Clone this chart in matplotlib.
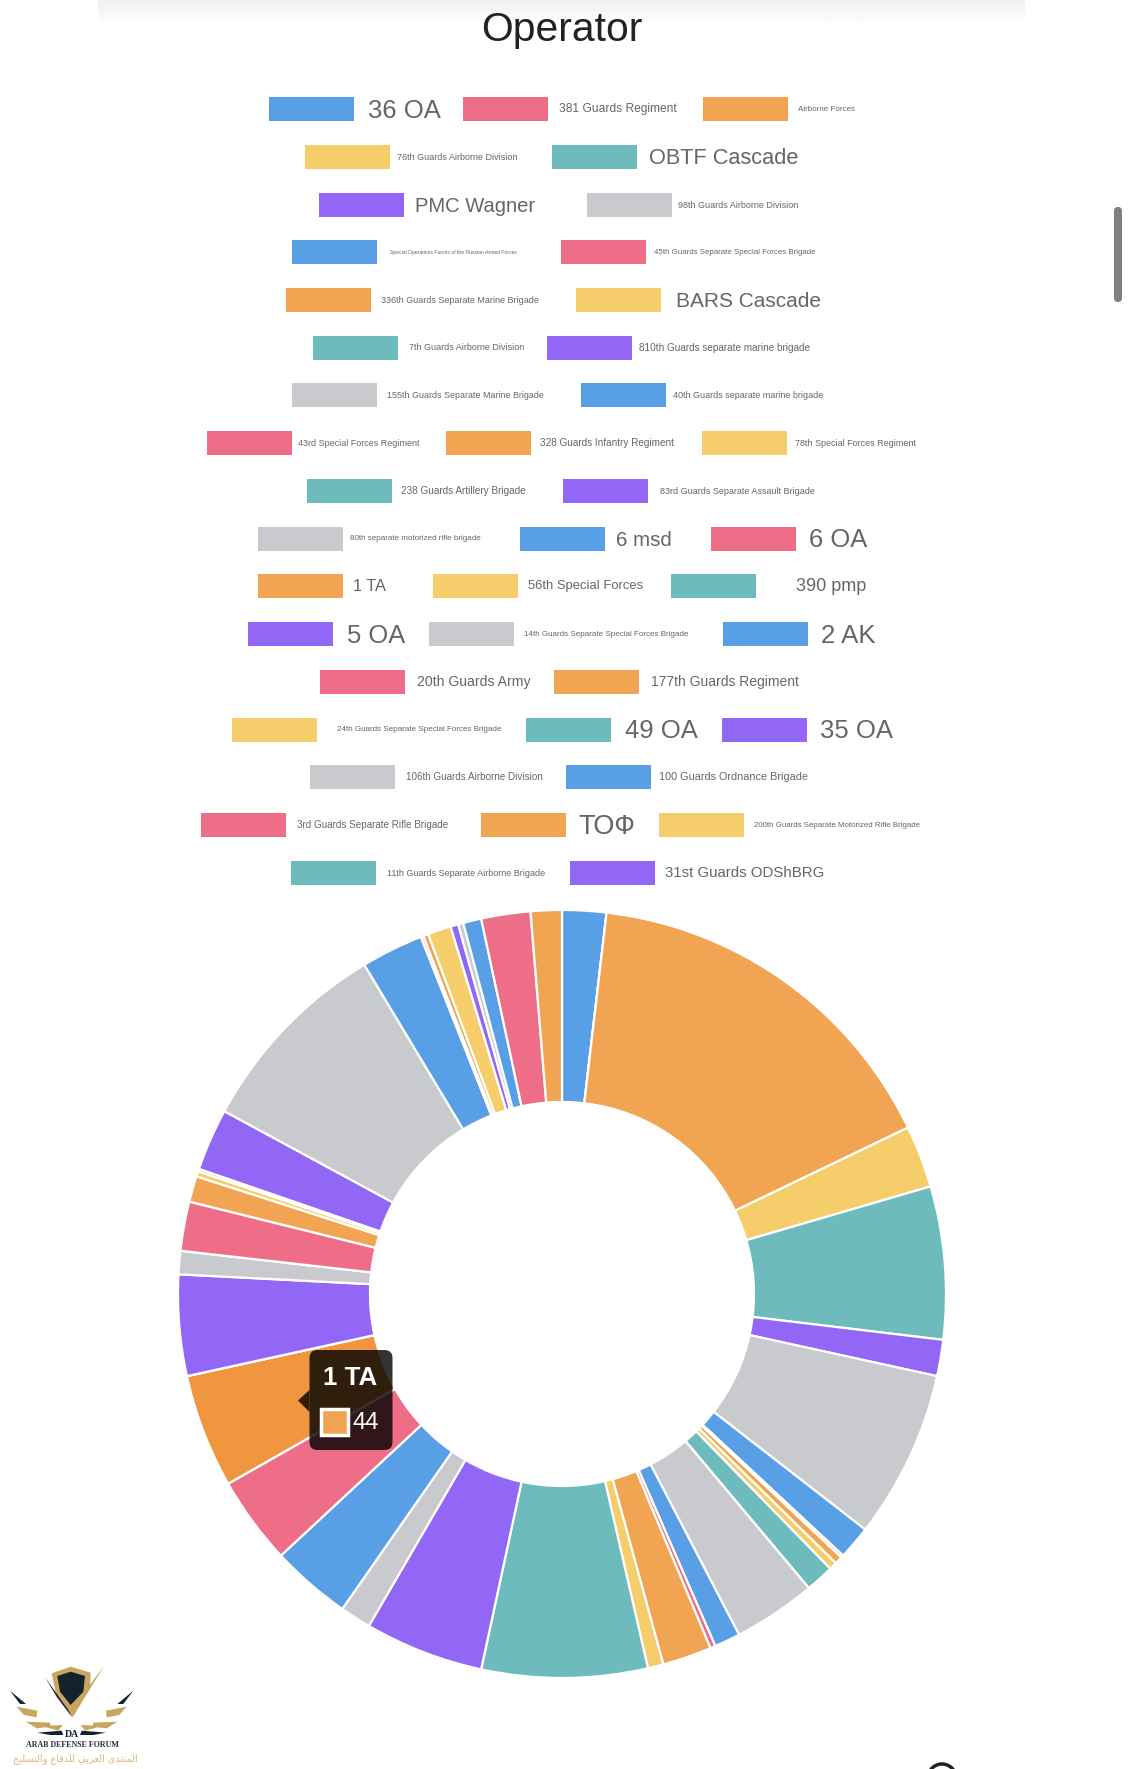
import numpy as np
import matplotlib
matplotlib.use("Agg")
import matplotlib.pyplot as plt
from matplotlib.patches import FancyBboxPatch, Polygon, Rectangle, Arc

labels = ["36 OA", "381 Guards Regiment", "Airborne Forces",
          "76th Guards Airborne Division", "OBTF Cascade",
          "PMC Wagner", "98th Guards Airborne Division",
          "Special Operations Forces of the Russian Armed Forces", "45th Guards Separate Special Forces Brigade",
          "336th Guards Separate Marine Brigade", "BARS Cascade",
          "7th Guards Airborne Division", "810th Guards separate marine brigade",
          "155th Guards Separate Marine Brigade", "40th Guards separate marine brigade",
          "43rd Special Forces Regiment", "328 Guards Infantry Regiment", "78th Special Forces Regiment",
          "238 Guards Artillery Brigade", "83rd Guards Separate Assault Brigade",
          "80th separate motorized rifle brigade", "6 msd", "6 OA",
          "1 TA", "56th Special Forces", "390 pmp",
          "5 OA", "14th Guards Separate Special Forces Brigade", "2 AK",
          "20th Guards Army", "177th Guards Regiment",
          "24th Guards Separate Special Forces Brigade", "49 OA", "35 OA",
          "106th Guards Airborne Division", "100 Guards Ordnance Brigade",
          "3rd Guards Separate Rifle Brigade", "ТОФ", "200th Guards Separate Motorized Rifle Brigade",
          "11th Guards Separate Airborne Brigade", "31st Guards ODShBRG"]

# slice values, the last four slices have no legend entry in the picture
values = [17, 0, 147, 24, 59,
          14, 65,
          13, 1,
          3, 3,
          11, 0,
          32, 10,
          2, 19, 6,
          64, 46,
          12, 31, 34,
          44, 0, 0,
          39, 9, 0,
          19, 10,
          2, 1, 24,
          78, 24,
          1, 2, 9,
          0, 3,
          2, 7, 19, 12]

palette = ["#589FE6", "#EE6E87", "#F1A553", "#F5CD6B", "#6EBBBD", "#9367F5", "#C8CACE"]

# legend layout in pixels: row y, swatch left, text left, text width
row_y = [109, 157, 205, 252, 300, 347.5, 395, 443, 491, 538.5, 586, 634, 682, 729.5, 777, 825, 873]
row_count = [3, 2, 2, 2, 2, 2, 2, 3, 2, 3, 3, 3, 2, 3, 2, 3, 2]
swatch_x = [268.6, 462.9, 703.2, 304.6, 551.8, 318.9, 587.3, 291.9, 560.8, 286, 575.6,
            312.5, 546.5, 291.9, 581.4, 206.6, 445.9, 701.6, 307.2, 562.9,
            258, 520, 710.6, 257.5, 432.7, 671.4, 247.9, 428.5, 722.8, 319.9, 554.4,
            232, 526.4, 721.7, 309.9, 566.1, 200.8, 480.9, 658.7, 291.3, 569.8]
text_x = [367.6, 559.2, 798, 397.2, 648.7, 415.2, 677.8, 389.8, 654, 380.8, 675.7,
          408.9, 639, 386.6, 673, 298.2, 540.1, 794.8, 400.9, 660.3,
          350.1, 616.4, 809.1, 352.8, 528, 796.4, 346.9, 524.3, 821.3, 416.8, 650.8,
          336.9, 625.4, 819.7, 405.7, 659.3, 296.6, 578.3, 754, 386.6, 664.6]
text_w = [72.5, 117.5, 57, 120, 150, 120, 120, 125, 163, 157, 145,
          115, 171.5, 156, 150, 121, 134, 121, 125.5, 154.6,
          130, 56, 58, 33, 115, 70, 58, 163, 55, 114, 148,
          163.6, 72.5, 72.5, 138, 149, 153, 57, 168, 158, 159]

arabic = ("\uFEA2\uFEF4\uFEE0\uFEB4\uFE98\uFEDF\uFE8D\uFEED "
          "\uFEC9\uFE8E\uFED3\uFEAA\uFEE0\uFEDF "
          "\uFEF2\uFE91\uFEAE\uFECC\uFEDF\uFE8D "
          "\uFEEF\uFEAA\uFE98\uFEE8\uFEE4\uFEDF\uFE8D")

fig = plt.figure(figsize=(11.30, 17.69), dpi=100, facecolor="white")


def fit_text(ax, x, y, s, width, **kw):
    # scale the font so the text is as wide as in the picture
    t = ax.text(x, y, s, fontsize=10, **kw)
    w = t.get_window_extent(fig.canvas.get_renderer()).width
    t.set_fontsize(10 * width / w)
    return t


def logo_poly(ax, pts, color, mirror=False):
    # points come from a 3x crop of the corner
    xy = [[((430 - px) if mirror else px) / 3, 1660 + py / 3] for px, py in pts]
    ax.add_patch(Polygon(xy, fc=color, ec="none"))


def draw_logo(ax):
    navy = "#14222E"
    gold = "#C9A660"
    logo_poly(ax, [(155, 40), (212, 20), (272, 38), (270, 85), (215, 170), (170, 110)], gold)
    logo_poly(ax, [(172, 48), (212, 35), (255, 48), (250, 95), (212, 135), (180, 95)], navy)
    logo_poly(ax, [(312, 18), (218, 172), (205, 150), (262, 85)], gold)
    logo_poly(ax, [(135, 52), (205, 150), (215, 170), (170, 110)], navy)
    for m in [False, True]:
        logo_poly(ax, [(30, 92), (78, 132), (60, 132)], navy, m)
        logo_poly(ax, [(50, 140), (112, 152), (110, 172), (72, 165)], gold, m)
        logo_poly(ax, [(78, 185), (150, 188), (152, 200), (110, 205)], gold, m)
        logo_poly(ax, [(125, 198), (188, 195), (175, 212)], gold, m)
        logo_poly(ax, [(112, 218), (185, 212), (190, 225), (150, 225)], navy, m)
    fit_text(ax, 72, 1734, "DA", 14, family="Liberation Serif", weight="bold", color=navy, ha="center", va="center")
    fit_text(ax, 72.5, 1745, "ARAB DEFENSE FORUM", 93, family="Liberation Serif", weight="bold", color="#25303A", ha="center", va="center")
    fit_text(ax, 75, 1758.5, arabic, 125, family="DejaVu Sans", color="#DDB778", ha="center", va="center")


def main():
    W, H = 1130.0, 1769.0

    # pie, centre (562, 1294) radius 384
    ax = fig.add_axes([178 / W, 1 - 1678 / H, 768 / W, 768 / H], zorder=1)
    colors = [palette[i % 7] for i in range(len(values))]
    wedges, _ = ax.pie(values, colors=colors, startangle=90, counterclock=False, radius=1,
                       wedgeprops=dict(width=0.5, edgecolor="white", linewidth=1.6))
    ax.set_xlim(-1, 1)
    ax.set_ylim(-1, 1)
    for w in wedges:
        w.set_clip_on(False)
    # hovered slice
    wedges[labels.index("1 TA")].set_facecolor("#EF963F")

    # everything else in pixel coordinates
    top = fig.add_axes([0, 0, 1, 1], zorder=2)
    top.axis("off")
    top.patch.set_alpha(0)

    # header shadow
    shade = np.linspace(0.94, 1.0, 30).reshape(-1, 1)
    top.imshow(shade, extent=[98, 1025, 26, 0], cmap="gray", vmin=0, vmax=1, aspect="auto", zorder=0)
    top.set_xlim(0, W)
    top.set_ylim(H, 0)

    fit_text(top, 562, 30, "Operator", 162, family="Liberation Sans", color="#222222", ha="center", va="center")

    # legend
    i = 0
    for y, n in zip(row_y, row_count):
        for k in range(n):
            top.add_patch(Rectangle((swatch_x[i], y - 12), 85, 24, fc=palette[i % 7], ec="none"))
            t = fit_text(top, text_x[i], y, labels[i], text_w[i], family="Liberation Sans",
                         color="#666666", ha="left", va="center")
            if t.get_fontsize() > 14:
                t.set_y(y + 1.5)
            i += 1

    # tooltip, same black as the chart library uses
    top.add_patch(FancyBboxPatch((309.5, 1350), 83, 100, boxstyle="round,pad=0,rounding_size=8",
                                 fc="black", ec="none", alpha=0.8))
    top.add_patch(Polygon([[309.5, 1390], [298, 1400.5], [309.5, 1412]], fc="black", ec="none", alpha=0.8))
    fit_text(top, 322.7, 1378, "1 TA", 54, color="white", weight="bold", family="Liberation Sans", ha="left", va="center")
    top.add_patch(Rectangle((321, 1409), 27, 26, fc="#F1A553", ec="white", lw=2.5))
    fit_text(top, 352.7, 1423, "44", 26.6, color="white", family="Liberation Sans", ha="left", va="center")

    # scrollbar
    top.add_patch(FancyBboxPatch((1114, 207), 8, 95, boxstyle="round,pad=0,rounding_size=4", fc="#808080", ec="none"))

    # corner of an icon at the bottom edge
    top.add_patch(Arc((942, 1778), 28, 28, theta1=180, theta2=360, color="#222222", lw=2.5))

    draw_logo(top)

    fig.savefig("out.png", dpi=100)


if __name__ == '__main__':
    main()
